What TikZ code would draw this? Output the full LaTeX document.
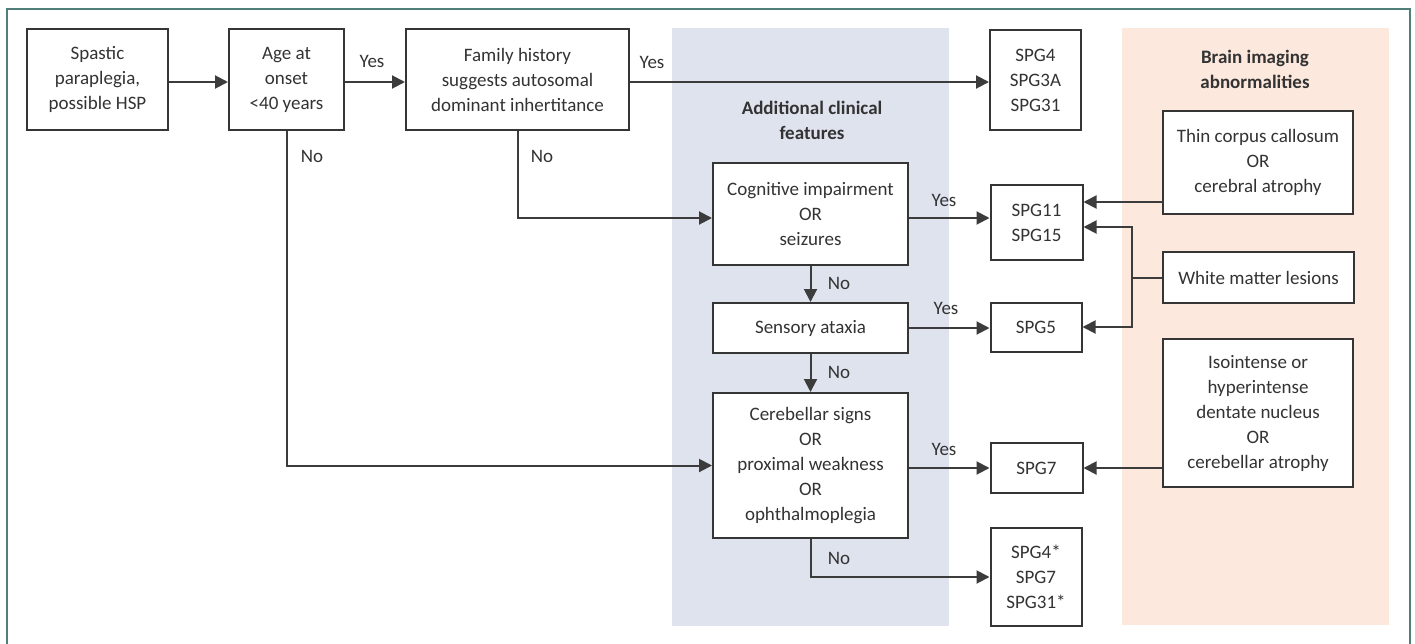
\documentclass[tikz,border=0pt]{standalone}
\usepackage{fontspec}
\setmainfont{Carlito}
\usetikzlibrary{arrows.meta}
\definecolor{txt}{HTML}{333333}
\definecolor{boxc}{HTML}{353535}
\definecolor{linec}{HTML}{3C3C3C}
\definecolor{framec}{HTML}{4F7F78}
\definecolor{bluebg}{HTML}{DEE3EE}
\definecolor{peachbg}{HTML}{FDE8DE}
\tikzset{
  box/.style={draw=boxc, line width=2pt, fill=white, align=center, inner sep=0pt,
    text=txt, font=\fontsize{19}{25}\selectfont},
  lbl/.style={text=txt, inner sep=0pt, font=\fontsize{19}{25}\selectfont},
  head/.style={text=txt, inner sep=0pt, align=center, font=\bfseries\fontsize{19}{25}\selectfont},
  conn/.style={draw=linec, line width=2pt},
  arr/.style={conn, -{Triangle[length=13pt,width=13pt]}}
}
\begin{document}
\begin{tikzpicture}[x=1pt,y=-1pt]
\useasboundingbox (0,0) rectangle (1415,643);
% frame
\draw[framec, line width=1.6pt] (7,645) -- (7,9) -- (1410,9) -- (1410,645);
% backgrounds
\fill[bluebg] (672,28) rectangle (949,626);
\fill[peachbg] (1122,28) rectangle (1389,625);
% headings
\node[head] (hclin) at (812,120) {Additional clinical\\features};
\node[head] (himg) at (1255,69) {Brain imaging\\abnormalities};
% boxes
\node[box, minimum width=141pt, minimum height=101pt] (spastic) at (97.5,79.5) {Spastic\\paraplegia,\\possible HSP};
\node[box, minimum width=115pt, minimum height=101pt] (age) at (286.5,79.5) {Age at\\onset\\<40 years};
\node[box, minimum width=223pt, minimum height=101pt] (family) at (517.5,79.5) {Family history\\suggests autosomal\\dominant inhertitance};
\node[box, minimum width=91pt, minimum height=100pt] (spg4) at (1035.5,80) {SPG4\\SPG3A\\SPG31};
\node[box, minimum width=190pt, minimum height=103pt] (thin) at (1258,162.5) {Thin corpus callosum\\OR\\cerebral atrophy};
\node[box, minimum width=195pt, minimum height=102pt] (cog) at (810.5,214) {Cognitive impairment\\OR\\seizures};
\node[box, minimum width=92pt, minimum height=75pt] (spg11) at (1036.5,222.5) {SPG11\\SPG15};
\node[box, minimum width=191pt, minimum height=51pt] (white) at (1258.5,277.5) {White matter lesions};
\node[box, minimum width=195pt, minimum height=50pt] (sens) at (810.5,328) {Sensory ataxia};
\node[box, minimum width=91pt, minimum height=49pt] (spg5) at (1036,327.5) {SPG5};
\node[box, minimum width=195pt, minimum height=145pt] (cereb) at (810.5,465.5) {Cerebellar signs\\OR\\proximal weakness\\OR\\ophthalmoplegia};
\node[box, minimum width=92pt, minimum height=50pt] (spg7) at (1036.5,468) {SPG7};
\node[box, minimum width=190pt, minimum height=148pt] (iso) at (1258,413) {Isointense or\\hyperintense\\dentate nucleus\\OR\\cerebellar atrophy};
\node[box, minimum width=91pt, minimum height=98pt] (spg4s) at (1036,577) {SPG4*\\SPG7\\SPG31*};
% connectors
\draw[arr] ([yshift=-2.5pt]spastic.east) -- ([yshift=-2.5pt]age.west);
\draw[arr] ([yshift=-2.5pt]age.east) -- ([yshift=-2.5pt]family.west);
\draw[arr] ([yshift=-2.5pt]family.east) -- ([yshift=-2.5pt]family.east -| spg4.west);
\draw[arr] (age.south) |- (cereb.west);
\draw[arr] (family.south) |- ([yshift=-4pt]cog.west);
\draw[arr] ([yshift=-4pt]cog.east) -- ([yshift=-4pt]cog.east -| spg11.west);
\draw[arr] (cog.south) -- (sens.north);
\draw[arr] (sens.east) -- (sens.east -| spg5.west);
\draw[arr] (sens.south) -- (cereb.north);
\draw[arr] (cereb.east |- spg7.west) -- (spg7.west);
\draw[arr] (cereb.south) |- (spg4s.west);
\coordinate (t1) at (1163,202);
\draw[arr] (t1) -- (t1 -| spg11.east);
\coordinate (w1) at (1132,227);
\coordinate (w2) at (1132,327);
\draw[arr] (white.west) -| (w1) -- (w1 -| spg11.east);
\draw[arr] (white.west) -| (w2) -- (w2 -| spg5.east);
\draw[arr] (iso.west |- spg7.east) -- (spg7.east);
% labels
\node[lbl] (y1) at (372,61) {Yes};
\node[lbl] (y2) at (652,62) {Yes};
\node[lbl] (n1) at (312,156) {No};
\node[lbl] (n2) at (542,156) {No};
\node[lbl] (y3) at (944,200) {Yes};
\node[lbl] (n3) at (839,283) {No};
\node[lbl] (y4) at (946,308) {Yes};
\node[lbl] (n4) at (839,372) {No};
\node[lbl] (y5) at (944,449) {Yes};
\node[lbl] (n5) at (839,558) {No};
\end{tikzpicture}
\end{document}
